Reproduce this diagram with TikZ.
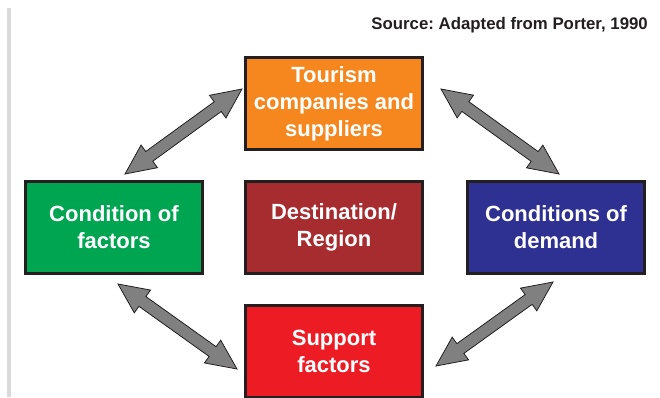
\documentclass[tikz,border=0pt]{standalone}
\usepackage{fontspec}
\setmainfont{Liberation Sans}
\frenchspacing
\definecolor{orangebox}{HTML}{F6871F}
\definecolor{greenbox}{HTML}{00A551}
\definecolor{brownbox}{HTML}{A62C30}
\definecolor{bluebox}{HTML}{2E3092}
\definecolor{redbox}{HTML}{ED1C24}
\definecolor{inkline}{HTML}{231F20}

\newcommand\twoway[2]{%
  \pgfpointanchor{#1}{center}\pgfgetlastxy\ax\ay
  \pgfpointanchor{#2}{center}\pgfgetlastxy\bx\by
  \pgfmathsetmacro\arang{atan2((\by)-(\ay),(\bx)-(\ax))}
  \pgfmathsetmacro\arlen{veclen((\bx)-(\ax),(\by)-(\ay))}
  \begin{scope}[shift={(#1)},rotate=\arang]
    \filldraw[arrowbody] (0,0) -- (30,14) -- (30,6) -- (\arlen-30,6) -- (\arlen-30,14)
      -- (\arlen,0) -- (\arlen-30,-14) -- (\arlen-30,-6) -- (30,-6) -- (30,-14) -- cycle;
  \end{scope}}

\begin{document}
\begin{tikzpicture}[x=1pt,y=-1pt]
  \def\w{177}
  \def\h{92}

\tikzstyle{box}=[draw=inkline,line width=3pt,minimum width=\w pt,minimum height=\h pt,inner sep=0pt,
  text=white,align=center,font=\bfseries\fontsize{22}{27}\selectfont]
\tikzstyle{arrowbody}=[fill=black!50,draw=inkline,line width=0.8pt,line join=miter]

\clip (0,0) rectangle (660,397);
\fill[black!15] (7,8) rectangle (11,397);
\node[anchor=base east,text=inkline,font=\bfseries\fontsize{16.8}{20}\selectfont,inner sep=0pt] (S) at (648,29) {Source: Adapted from Porter, 1990};

\node[box,fill=orangebox] (P1) at (334,103.5) {Tourism\\companies and\\suppliers};
\node[box,fill=greenbox] (P2) at (114,227) {Condition of\\factors};
\node[box,fill=brownbox] (P3) at (334,227) {Destination/\\Region};
\node[box,fill=bluebox] (P4) at (556,227) {Conditions of\\demand};
\node[box,fill=redbox] (P5) at (334,351.5) {Support\\factors};

\coordinate (Q1) at (125,174);
\coordinate (Q2) at (242,89);
\twoway{Q1}{Q2}
\coordinate (Q3) at (441,89);
\coordinate (Q4) at (559,174);
\twoway{Q3}{Q4}
\coordinate (Q5) at (118,284);
\coordinate (Q6) at (237,369);
\twoway{Q5}{Q6}
\coordinate (Q7) at (553,282);
\coordinate (Q8) at (436,366);
\twoway{Q7}{Q8}
\end{tikzpicture}
\end{document}
